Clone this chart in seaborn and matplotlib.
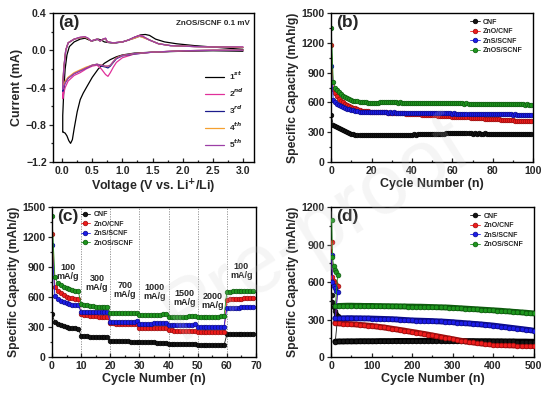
# plot.py
# - CV curves and cycling / rate performance of ZnOS/SCNF anodes
# - four panels drawn with seaborn line plots

import matplotlib
matplotlib.use("Agg")
import matplotlib.pyplot as plt
from matplotlib.ticker import MultipleLocator
import pandas as pd
import seaborn as sns

# ---------------- (a) cyclic voltammetry, ZnOS/SCNF 0.1 mV ----------------
cv_labels = ["1$^{st}$", "2$^{nd}$", "3$^{rd}$", "4$^{th}$", "5$^{th}$"]
cv_colors = ["#000000", "#e0309a", "#1c1c8c", "#f5a030", "#9c3fa6"]

cv1_v = [3.0, 2.5, 2.0, 1.5, 1.2, 1.0, 0.9, 0.8, 0.7, 0.6, 0.5, 0.42, 0.35, 0.3,
         0.25, 0.2, 0.17, 0.14, 0.11, 0.08, 0.05, 0.02, 0.01,
         0.01, 0.03, 0.05, 0.08, 0.12, 0.2, 0.3, 0.38, 0.45, 0.5, 0.55, 0.6,
         0.65, 0.7, 0.8, 0.9, 1.0, 1.1, 1.2, 1.3, 1.38, 1.45, 1.55, 1.7, 1.9,
         2.2, 2.5, 2.8, 3.0]
cv1_i = [-0.01, -0.005, -0.01, -0.02, -0.03, -0.05, -0.07, -0.1, -0.14, -0.2,
         -0.29, -0.38, -0.46, -0.53, -0.66, -0.84, -0.96, -1.0, -0.97, -0.92,
         -0.89, -0.88, -0.88,
         -0.7, -0.4, -0.2, -0.05, 0.04, 0.09, 0.12, 0.13, 0.11, 0.1, 0.11, 0.12,
         0.11, 0.09, 0.08, 0.08, 0.09, 0.11, 0.14, 0.165, 0.17, 0.16, 0.12,
         0.09, 0.07, 0.05, 0.035, 0.02, 0.01]

cv2_v = [3.0, 2.5, 2.0, 1.5, 1.2, 1.0, 0.9, 0.85, 0.8, 0.76, 0.72, 0.65, 0.58,
         0.5, 0.4, 0.3, 0.2, 0.1, 0.05, 0.02, 0.01,
         0.01, 0.03, 0.06, 0.1, 0.2, 0.3, 0.38, 0.43, 0.48, 0.53, 0.58, 0.63,
         0.68, 0.72, 0.75, 0.85, 1.0, 1.1, 1.2, 1.28, 1.33, 1.45, 1.6, 1.8, 2.2,
         2.6, 3.0]
cv2_i = [0.0, 0.0, -0.005, -0.02, -0.04, -0.08, -0.13, -0.18, -0.24, -0.28,
         -0.26, -0.2, -0.16, -0.17, -0.2, -0.24, -0.27, -0.33, -0.4, -0.48,
         -0.52,
         -0.45, -0.2, 0.0, 0.08, 0.12, 0.14, 0.145, 0.13, 0.1, 0.11, 0.12, 0.1,
         0.12, 0.13, 0.09, 0.08, 0.09, 0.11, 0.14, 0.16, 0.155, 0.11, 0.07,
         0.05, 0.04, 0.035, 0.035]

cv3_i = [0.0, 0.0, -0.005, -0.02, -0.04, -0.06, -0.09, -0.13, -0.17, -0.19,
         -0.18, -0.17, -0.15, -0.16, -0.19, -0.22, -0.25, -0.3, -0.35, -0.41,
         -0.44,
         -0.38, -0.18, 0.0, 0.08, 0.12, 0.135, 0.14, 0.125, 0.1, 0.11, 0.12,
         0.1, 0.12, 0.125, 0.09, 0.08, 0.09, 0.11, 0.13, 0.15, 0.145, 0.11,
         0.07, 0.05, 0.04, 0.035, 0.03]
cv4_i = [0.0, 0.0, -0.005, -0.02, -0.035, -0.055, -0.08, -0.12, -0.16, -0.17,
         -0.17, -0.16, -0.15, -0.16, -0.18, -0.21, -0.24, -0.29, -0.33, -0.38,
         -0.4,
         -0.35, -0.17, 0.0, 0.08, 0.12, 0.135, 0.14, 0.125, 0.1, 0.11, 0.12,
         0.1, 0.12, 0.125, 0.09, 0.08, 0.09, 0.11, 0.13, 0.15, 0.14, 0.11, 0.07,
         0.05, 0.04, 0.035, 0.03]
cv5_i = [0.0, 0.0, -0.005, -0.02, -0.035, -0.055, -0.085, -0.12, -0.16, -0.17,
         -0.17, -0.16, -0.15, -0.16, -0.19, -0.22, -0.25, -0.3, -0.35, -0.4,
         -0.42,
         -0.36, -0.17, 0.0, 0.08, 0.12, 0.14, 0.145, 0.13, 0.1, 0.11, 0.12, 0.1,
         0.12, 0.13, 0.09, 0.08, 0.09, 0.11, 0.14, 0.155, 0.15, 0.11, 0.07,
         0.05, 0.04, 0.035, 0.035]

cv_voltage = [cv1_v, cv2_v, cv2_v, cv2_v, cv2_v]
cv_current = [cv1_i, cv2_i, cv3_i, cv4_i, cv5_i]

# ---------------- shared sample names / colours ----------------
samples = ["CNF", "ZnO/CNF", "ZnS/SCNF", "ZnOS/SCNF"]
colors = ["#141414", "#ee1c1c", "#1c1ce8", "#1e961e"]
edges = ["#000000", "#9a0d0d", "#0c0c8a", "#0d5a0d"]

# ---------------- (b) cycling at 100 mA/g, cycles 0-99 ----------------
cyc_b_cnf = [470, 372, 360, 348, 338, 328, 318, 310, 302, 292,
             284, 278, 276, 275, 275, 274, 275, 274, 275, 274,
             273, 274, 275, 274, 273, 274, 275, 274, 274, 275,
             274, 275, 274, 273, 274, 275, 274, 275, 276, 275,
             276, 277, 276, 277, 278, 277, 278, 279, 278, 279,
             280, 279, 280, 281, 280, 281, 282, 296, 292, 289,
             288, 288, 287, 288, 287, 288, 287, 287, 288, 287,
             286, 287, 286, 287, 286, 286, 287, 286, 285, 286,
             285, 286, 285, 285, 286, 285, 284, 285, 284, 285,
             284, 284, 285, 284, 283, 284, 283, 284, 283, 283]
cyc_b_zno = [1180, 740, 690, 660, 635, 615, 600, 585, 572, 562,
             553, 545, 540, 530, 522, 518, 515, 512, 510, 508,
             506, 505, 504, 503, 502, 501, 500, 499, 498, 497,
             496, 495, 494, 492, 491, 490, 489, 487, 486, 485,
             484, 482, 481, 480, 479, 477, 476, 475, 474, 472,
             471, 470, 469, 467, 466, 465, 464, 462, 461, 460,
             458, 457, 456, 455, 453, 452, 451, 449, 448, 447,
             445, 444, 443, 441, 440, 439, 437, 436, 435, 433,
             432, 431, 429, 428, 427, 425, 424, 423, 421, 420,
             419, 417, 416, 415, 413, 412, 411, 410, 409, 408]
cyc_b_zns = [970, 625, 600, 585, 572, 562, 553, 545, 538, 532,
             526, 520, 516, 512, 500, 500, 502, 503, 502, 501,
             500, 501, 500, 499, 500, 501, 500, 499, 498, 499,
             498, 499, 498, 497, 498, 497, 496, 497, 496, 495,
             496, 495, 494, 495, 494, 493, 494, 493, 492, 493,
             492, 491, 492, 491, 490, 491, 490, 489, 490, 489,
             488, 489, 488, 487, 488, 487, 486, 487, 486, 485,
             486, 485, 484, 485, 484, 483, 484, 483, 482, 483,
             482, 481, 482, 481, 480, 481, 480, 479, 480, 479,
             478, 479, 478, 477, 478, 477, 476, 477, 476, 475]
cyc_b_znos = [1350, 810, 750, 725, 700, 680, 665, 652, 640, 630,
              622, 618, 614, 610, 606, 603, 601, 600, 599, 599,
              598, 599, 598, 599, 600, 601, 600, 601, 602, 601,
              600, 601, 600, 599, 600, 599, 598, 599, 598, 597,
              598, 597, 596, 597, 596, 595, 596, 595, 594, 595,
              594, 593, 594, 593, 592, 593, 592, 591, 592, 591,
              590, 591, 590, 589, 590, 589, 588, 589, 588, 587,
              588, 587, 586, 587, 586, 585, 586, 585, 584, 585,
              584, 583, 584, 583, 582, 583, 582, 581, 582, 581,
              580, 581, 580, 579, 580, 579, 578, 579, 578, 577]
cycles_b = list(range(0, 100))
series_b = [cyc_b_cnf, cyc_b_zno, cyc_b_zns, cyc_b_znos]

# ---------------- (c) rate performance, cycles 0-69 ----------------
rate_cnf = [430, 350, 330, 318, 308, 300, 295, 290, 287, 285,
            215, 210, 207, 205, 204, 203, 202, 202, 201, 200,
            162, 160, 159, 158, 158, 157, 157, 156, 156, 156,
            150, 149, 148, 148, 147, 147, 146, 146, 146, 145,
            132, 131, 130, 130, 129, 129, 129, 128, 128, 128,
            120, 119, 119, 118, 118, 118, 117, 117, 117, 117,
            228, 230, 231, 232, 232, 233, 233, 234, 234, 235]
rate_zno = [1230, 700, 660, 640, 620, 605, 595, 588, 582, 578,
            430, 425, 420, 416, 412, 409, 406, 404, 402, 400,
            340, 338, 336, 335, 334, 333, 332, 331, 330, 330,
            295, 294, 293, 293, 292, 292, 291, 291, 290, 290,
            268, 267, 266, 266, 265, 265, 264, 264, 264, 263,
            250, 250, 249, 249, 248, 248, 248, 247, 247, 247,
            575, 580, 582, 584, 585, 586, 587, 588, 588, 589]
rate_zns = [1120, 610, 585, 565, 550, 540, 532, 526, 522, 518,
            455, 453, 452, 451, 450, 450, 449, 449, 448, 448,
            352, 353, 354, 354, 355, 355, 356, 356, 356, 357,
            330, 332, 334, 335, 336, 337, 338, 339, 339, 340,
            320, 321, 322, 323, 324, 325, 325, 326, 326, 327,
            300, 301, 302, 303, 303, 304, 304, 305, 305, 306,
            488, 492, 494, 495, 496, 497, 497, 498, 498, 499]
rate_znos = [1410, 800, 740, 720, 705, 690, 680, 672, 665, 660,
             535, 525, 518, 512, 508, 505, 503, 502, 501, 500,
             442, 441, 440, 440, 439, 439, 438, 438, 438, 437,
             420, 421, 422, 423, 424, 425, 426, 426, 427, 427,
             400, 401, 402, 403, 404, 405, 406, 407, 408, 415,
             400, 401, 402, 403, 404, 405, 406, 406, 407, 408,
             655, 656, 657, 657, 658, 658, 658, 659, 659, 659]
cycles_c = list(range(0, 70))
series_c = [rate_cnf, rate_zno, rate_zns, rate_znos]
rate_steps = [10, 20, 30, 40, 50, 60]
rate_text = ["100\nmA/g", "300\nmA/g", "700\nmA/g", "1000\nmA/g",
             "1500\nmA/g", "2000\nmA/g", "100\nmA/g"]
rate_text_x = [5.5, 15.4, 25.0, 35.3, 45.6, 55.0, 65.0]
rate_text_y = [850, 740, 670, 650, 590, 560, 860]

# ---------------- (d) long cycling ----------------
act_cycles = [1, 3, 6, 9, 12, 16]
act_cnf = [500, 440, 400, 370, 345, 330]
act_zno = [920, 640, 610, 590, 580, 570]
act_zns = [820, 600, 570, 550, 530, 520]
act_znos = [1100, 800, 730, 700, 680, 660]

long_cycles = list(range(10, 510, 10))
long_cnf = [125, 126, 126, 127, 127, 127, 128, 128, 128, 128,
            128, 129, 129, 129, 129, 130, 130, 130, 130, 130,
            130, 131, 131, 131, 131, 131, 131, 130, 130, 130,
            130, 130, 129, 129, 129, 128, 128, 128, 128, 127,
            127, 127, 126, 126, 126, 125, 125, 125, 124, 124]
long_zno = [272, 270, 268, 266, 264, 262, 259, 256, 253, 250,
            246, 242, 238, 233, 228, 223, 218, 213, 207, 202,
            197, 191, 186, 180, 174, 168, 162, 156, 150, 144,
            138, 132, 127, 122, 118, 114, 110, 107, 104, 101,
            99, 97, 96, 95, 94, 93, 92, 91, 90, 89]
long_zns = [310, 311, 311, 312, 312, 311, 311, 310, 310, 309,
            308, 307, 306, 305, 304, 302, 300, 298, 296, 294,
            293, 292, 291, 290, 289, 287, 286, 284, 282, 280,
            277, 275, 272, 270, 267, 265, 262, 259, 256, 253,
            249, 245, 241, 237, 233, 229, 225, 221, 217, 212]
long_znos = [408, 410, 411, 412, 412, 411, 411, 410, 410, 410,
             409, 409, 408, 408, 407, 407, 406, 406, 405, 405,
             404, 404, 403, 402, 401, 400, 399, 398, 397, 395,
             393, 391, 389, 387, 385, 383, 381, 379, 377, 375,
             373, 371, 368, 366, 363, 361, 358, 356, 353, 350]
series_act = [act_cnf, act_zno, act_zns, act_znos]
series_long = [long_cnf, long_zno, long_zns, long_znos]


def style_axes(ax, xmaj, xmin, ymaj, ymin):
    """Inward x ticks, outward y ticks, minor ticks, bold tick labels."""
    ax.xaxis.set_major_locator(MultipleLocator(xmaj))
    ax.xaxis.set_minor_locator(MultipleLocator(xmin))
    ax.yaxis.set_major_locator(MultipleLocator(ymaj))
    ax.yaxis.set_minor_locator(MultipleLocator(ymin))
    ax.tick_params(which="both", top=False, right=False, labelsize=7.6,
                   width=0.9)
    ax.tick_params(axis="x", which="both", direction="in", pad=3)
    ax.tick_params(axis="y", which="both", direction="out", pad=1.5)
    ax.tick_params(which="major", length=3)
    ax.tick_params(which="minor", length=1.8)
    for side in ax.spines.values():
        side.set_visible(True)
        side.set_linewidth(1.0)
        side.set_color("black")


def panel_label(ax, text):
    ax.text(0.025, 0.985, text, transform=ax.transAxes, ha="left", va="top",
            fontsize=12.5, fontweight="bold")


def capacity_legend(ax, **kw):
    ax.legend(frameon=False, fontsize=5, handlelength=1.4, handletextpad=0.5,
              labelspacing=0.35, borderaxespad=0.2, markerscale=1.0, **kw)


sns.set_style("ticks")
plt.rcParams["font.family"] = ["Liberation Sans", "DejaVu Sans"]
plt.rcParams["font.weight"] = "bold"
plt.rcParams["axes.labelweight"] = "bold"

fig = plt.figure(figsize=(5.53, 3.96), dpi=100)
ax_a = fig.add_axes([0.096, 0.591, 0.363, 0.376])
ax_b = fig.add_axes([0.599, 0.591, 0.365, 0.376])
ax_c = fig.add_axes([0.094, 0.098, 0.369, 0.379])
ax_d = fig.add_axes([0.599, 0.098, 0.366, 0.379])

# ----- (a)
for v, i, lab, col in zip(cv_voltage, cv_current, cv_labels, cv_colors):
    df = pd.DataFrame({"voltage": v, "current": i})
    sns.lineplot(data=df, x="voltage", y="current", sort=False, estimator=None,
                 color=col, lw=0.9, label=lab, ax=ax_a)
ax_a.set_xlim(-0.15, 3.18)
ax_a.set_ylim(-1.2, 0.4)
style_axes(ax_a, 0.5, 0.25, 0.4, 0.2)
ax_a.set_xlabel("Voltage (V vs. Li$^{+}$/Li)", fontsize=9, labelpad=1)
ax_a.set_ylabel("Current (mA)", fontsize=9, labelpad=2)
panel_label(ax_a, "(a)")
ax_a.text(0.98, 0.955, "ZnOS/SCNF 0.1 mV", transform=ax_a.transAxes,
          ha="right", va="top", fontsize=5.8, fontweight="bold")
ax_a.legend(loc="lower right", bbox_to_anchor=(0.99, 0.03), frameon=False,
            fontsize=6, handlelength=2.3, handletextpad=0.6, labelspacing=0.55)

# ----- (b)
for vals, name, col, ec in zip(series_b, samples, colors, edges):
    df = pd.DataFrame({"cycle": cycles_b, "capacity": vals})
    sns.lineplot(data=df, x="cycle", y="capacity", color=col, lw=0.6,
                 marker="o", markersize=3.3, markeredgecolor=ec,
                 markeredgewidth=0.5, label=name, ax=ax_b)
ax_b.set_xlim(0, 100)
ax_b.set_ylim(0, 1500)
style_axes(ax_b, 20, 10, 300, 150)
ax_b.set_xlabel("Cycle Number (n)", fontsize=9, labelpad=1)
ax_b.set_ylabel("Specific Capacity (mAh/g)", fontsize=8.7, labelpad=2)
panel_label(ax_b, "(b)")
capacity_legend(ax_b, loc="upper right", bbox_to_anchor=(0.97, 0.99))

# ----- (c)
for step in rate_steps:
    ax_c.axvline(step, color="#888888", lw=0.6, ls=(0, (1.5, 1.5)), zorder=0)
for vals, name, col, ec in zip(series_c, samples, colors, edges):
    df = pd.DataFrame({"cycle": cycles_c, "capacity": vals})
    sns.lineplot(data=df, x="cycle", y="capacity", color=col, lw=0.6,
                 marker="o", markersize=3.3, markeredgecolor=ec,
                 markeredgewidth=0.5, label=name, ax=ax_c)
for txt, tx, ty in zip(rate_text, rate_text_x, rate_text_y):
    ax_c.text(tx, ty, txt, ha="center", va="center", fontsize=6.5,
              fontweight="bold", linespacing=1.05)
ax_c.set_xlim(0, 70)
ax_c.set_ylim(0, 1500)
style_axes(ax_c, 10, 5, 300, 150)
ax_c.set_xlabel("Cycle Number (n)", fontsize=9, labelpad=1)
ax_c.set_ylabel("Specific Capacity (mAh/g)", fontsize=8.7, labelpad=2)
panel_label(ax_c, "(c)")
capacity_legend(ax_c, loc="upper left", bbox_to_anchor=(0.12, 1.0))

# ----- (d)
for act, lng, name, col, ec in zip(series_act, series_long, samples, colors,
                                   edges):
    ax_d.plot(long_cycles, lng, color=ec, lw=4.2, solid_capstyle="round",
              zorder=2)
    df = pd.DataFrame({"cycle": act_cycles + long_cycles,
                       "capacity": act + lng})
    sns.lineplot(data=df, x="cycle", y="capacity", sort=False, estimator=None,
                 color=col, lw=0.6, marker="o", markersize=3.4,
                 markeredgecolor=ec, markeredgewidth=0.5, label=name,
                 ax=ax_d, zorder=3)
ax_d.set_xlim(0, 500)
ax_d.set_ylim(0, 1200)
style_axes(ax_d, 100, 50, 300, 150)
ax_d.set_xlabel("Cycle Number (n)", fontsize=9, labelpad=1)
ax_d.set_ylabel("Specific Capacity (mAh/g)", fontsize=8.7, labelpad=2)
panel_label(ax_d, "(d)")
capacity_legend(ax_d, loc="upper right", bbox_to_anchor=(0.97, 0.99))

# watermark of the accepted manuscript
fig.text(0.57, 0.42, "Pre-proof", fontsize=60, fontweight="normal",
         color="#c8c8c8", alpha=0.18, rotation=32, ha="center", va="center",
         zorder=10)

fig.savefig("out.png", dpi=100)
